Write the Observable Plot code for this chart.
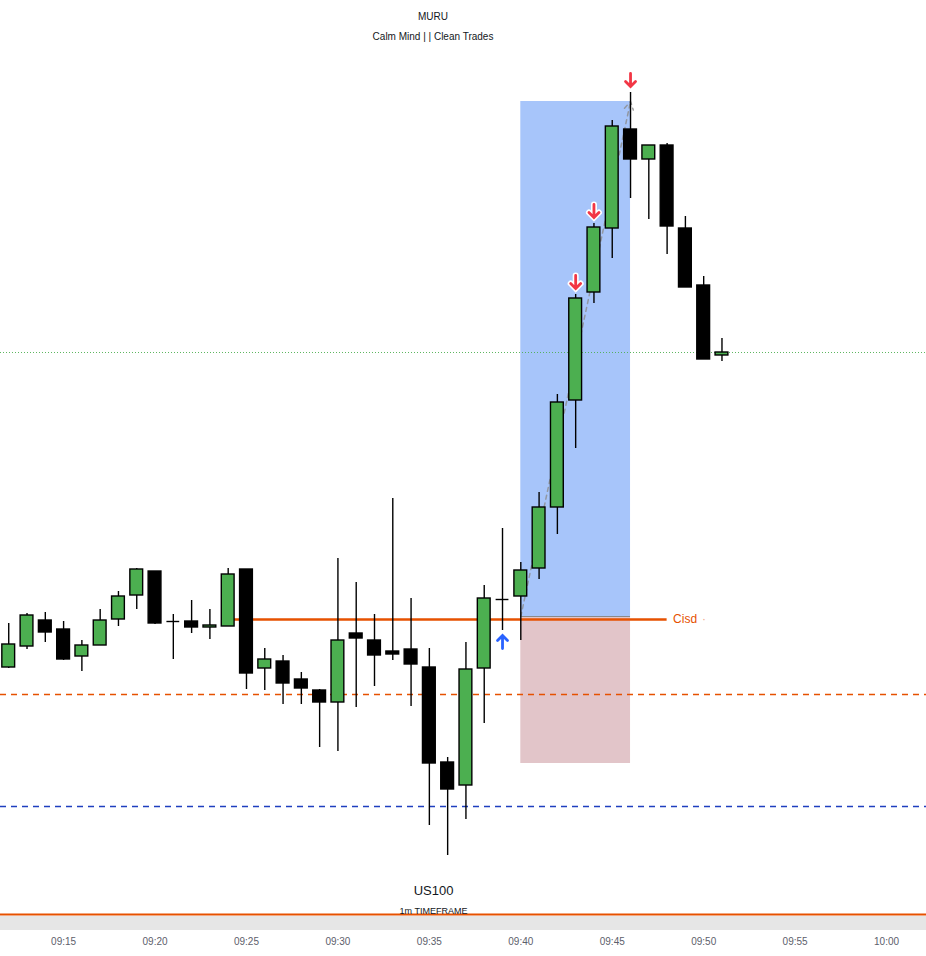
<!DOCTYPE html>
<html>
<head>
<meta charset="utf-8">
<script src="https://cdn.jsdelivr.net/npm/d3@7"></script>
<script src="https://cdn.jsdelivr.net/npm/@observablehq/plot@0.6"></script>
<style>
  body { margin: 0; background: #fff; font-family: "Liberation Sans", Arial, sans-serif; }
  #wrap { position: relative; width: 926px; height: 956px; overflow: hidden; background: #fff; }
  #hdr { position: absolute; left: 0; top: 0; width: 866px; height: 50px; text-align: center; color: #131722; font-size: 10px; line-height: 12px; }
  #t1 { position: absolute; top: 11px; width: 100%; }
  #t2 { position: absolute; top: 31px; width: 100%; }
  #chart { position: absolute; top: 50px; left: 0; }
  #band { position: absolute; left: 0; top: 916px; width: 926px; height: 14px; background: #e6e6e6; }
</style>
</head>
<body>
<div id="wrap">
  <div id="hdr"><div id="t1">MURU</div><div id="t2">Calm Mind | | Clean Trades</div></div>
  <div id="chart"></div>
  <div id="band"></div>
</div>
<script>
// ---- data (US100, 1m) ----
const times  = ["09:12","09:13","09:14","09:15","09:16","09:17","09:18","09:19","09:20","09:21",
                "09:22","09:23","09:24","09:25","09:26","09:27","09:28","09:29","09:30","09:31",
                "09:32","09:33","09:34","09:35","09:36","09:37","09:38","09:39","09:40","09:41",
                "09:42","09:43","09:44","09:45","09:46","09:47","09:48","09:49","09:50","09:51"];
const opens  = [21383.25,21388.5,21395,21392.75,21386,21388.75,21395.25,21401.25,21407.25,21394.75,
                21394.75,21393.25,21393.5,21407.75,21383,21384.75,21380.25,21377.5,21374.5,21391.75,
                21390,21387.25,21387.75,21383.25,21359.5,21353.75,21383,21400.25,21401,21408,
                21423.25,21450,21477,21493,21517.75,21510.25,21513.75,21493,21478.75,21461.25];
const highs  = [21394.25,21396.75,21397,21394.75,21390,21397.75,21402.25,21408,21407.25,21396.5,
                21400,21397.75,21408,21407.75,21388,21386.25,21382,21377.75,21410.5,21404.5,
                21396.5,21425.5,21400.5,21388,21360.75,21389.5,21403.75,21418,21409.5,21427,
                21451.5,21476.5,21494.25,21520,21527,21513.75,21514.25,21496,21481,21465.5];
const lows   = [21383,21387.75,21389.5,21385,21382.25,21388.75,21393.5,21397.75,21394,21385.25,
                21391.75,21390.25,21393.5,21377.75,21377.5,21374,21374,21363.25,21362.25,21373.25,
                21378.5,21385,21373.5,21343.75,21336.25,21345.25,21369.25,21392.5,21390,21405.25,
                21416.5,21438,21474.25,21485.5,21500.5,21495.25,21486.5,21478.25,21460.25,21459.75];
const closes = [21389,21396.25,21392,21385.25,21388.75,21395,21401,21407.75,21394.25,21394.75,
                21393.25,21393.75,21406.5,21381.75,21385.25,21379.25,21378,21374.5,21390,21390.5,
                21386.25,21386.5,21384,21359.25,21352.75,21382.75,21400.5,21400.25,21407.5,21423.25,
                21449.5,21475.5,21493.25,21518.5,21510.25,21513.75,21493.5,21478.25,21460.25,21462];

const tickLabels = ["09:15","09:20","09:25","09:30","09:35","09:40","09:45","09:50","09:55","10:00"];
const xDomain = ["09:11:33","10:02:11"];
const yDomain = [21321, 21537.5];

// position tool (long)
const position = [{start: "09:40", end: "09:46", entry: 21396, target: 21524.75, stop: 21359.25}];
// levels
const cisd = [{start: "09:24", end: "09:48", price: 21395.25, label: "Cisd"}];
const orangeDashed = [21376.5];
const blueDashed = [21348.5];
const bottomLevel = [21321.5];
const lastPrice = [21462];
// signals
const sellSignals = ["09:43","09:44","09:46"];
const buySignals = ["09:39"];

// ---- build ----
const parse = s => {
  const [h, m, sec] = s.split(":").map(Number);
  return new Date(Date.UTC(2024, 0, 2, h, m, sec || 0));
};
const candles = times.map((t, i) => ({t: parse(t), o: opens[i], h: highs[i], l: lows[i], c: closes[i]}));
const byTime = new Map(candles.map((d, i) => [times[i], d]));
const halfW = 21000; // half body width in ms
const pos = position.map(p => ({...p, x1: parse(p.start), x2: parse(p.end)}));
const cis = cisd.map(c => ({...c, x1: parse(c.start), x2: parse(c.end)}));
const sells = sellSignals.map(t => byTime.get(t));
const buys = buySignals.map(t => byTime.get(t));
const GREEN = "#4caf50", ORANGE = "#e65100";

// custom arrow glyph: shaft + chevron head
const arrowShape = {
  draw(context, l) {
    const w = 5;
    context.moveTo(0, 0);
    context.lineTo(0, -l + 1);
    context.moveTo(-w, -l + w);
    context.lineTo(0, -l);
    context.lineTo(w, -l + w);
  }
};
const signalMarks = (data, yField, rotate, dy, color) => [
  Plot.vector(data, {x: "t", y: yField, length: 13, rotate, anchor: "end", dy, shape: arrowShape, stroke: "white", strokeWidth: 6, strokeLinejoin: "miter"}),
  Plot.vector(data, {x: "t", y: yField, length: 13, rotate, anchor: "end", dy, shape: arrowShape, stroke: color, strokeWidth: 2.8, strokeLinejoin: "miter"})
];

const chart = Plot.plot({
  width: 926,
  height: 906,
  marginTop: 0, marginBottom: 40, marginLeft: 0, marginRight: 0,
  style: {background: "transparent", fontFamily: "'Liberation Sans', Arial, sans-serif", fontSize: "10px", overflow: "visible"},
  x: {type: "utc", domain: xDomain.map(parse)},
  y: {domain: yDomain, axis: null},
  marks: [
    Plot.axisX({ticks: tickLabels.map(parse), tickFormat: d3.utcFormat("%H:%M"), tickSize: 0, tickPadding: 21, fill: "#5d606b", label: null, fontSize: 10}),
    // position tool
    Plot.rect(pos, {x1: "x1", x2: "x2", y1: "entry", y2: "target", fill: "#a7c5fa"}),
    Plot.rect(pos, {x1: "x1", x2: "x2", y1: "stop", y2: "entry", fill: "#e2c5c9"}),
    Plot.ruleY(pos, {x1: "x1", x2: "x2", y: "entry", stroke: "#8a8a8a", strokeWidth: 1}),
    // current price dotted line
    Plot.ruleY(lastPrice, {stroke: GREEN, strokeDasharray: "1,2", strokeWidth: 1, strokeOpacity: 0.9}),
    // levels
    Plot.ruleY(orangeDashed, {stroke: ORANGE, strokeDasharray: "6,5", strokeWidth: 1.3}),
    Plot.ruleY(blueDashed, {stroke: "#1f3fbf", strokeDasharray: "6,5", strokeWidth: 1.3}),
    Plot.ruleY(cis, {x1: "x1", x2: "x2", y: "price", stroke: ORANGE, strokeWidth: 2.5}),
    Plot.text(cis, {x: "x2", y: "price", text: "label", fill: ORANGE, textAnchor: "start", dx: 6, fontSize: 12, fontWeight: 500}),
    Plot.text(cis, {x: "x2", y: "price", text: () => "·", fill: ORANGE, fillOpacity: 0.5, textAnchor: "start", dx: 35, fontSize: 12}),
    Plot.ruleY(bottomLevel, {stroke: ORANGE, strokeWidth: 2}),
    // dashed projection arrow
    Plot.arrow(pos, {x1: "x1", y1: "entry", x2: "x2", y2: "target", stroke: "#8c8c8c", strokeOpacity: 0.8, strokeDasharray: "4,4", strokeWidth: 1.5, headLength: 9, insetEnd: 0}),
    // wicks
    Plot.ruleX(candles, {x: "t", y1: "l", y2: "h", stroke: "#000", strokeWidth: 1.4}),
    // doji ticks
    Plot.ruleY(candles.filter(d => d.o === d.c), {x1: d => new Date(+d.t - halfW), x2: d => new Date(+d.t + halfW), y: "c", stroke: "#000", strokeWidth: 1.4}),
    // bodies
    Plot.rect(candles.filter(d => d.o !== d.c), {
      x1: d => new Date(+d.t - halfW), x2: d => new Date(+d.t + halfW),
      y1: d => Math.min(d.o, d.c), y2: d => Math.max(d.o, d.c),
      fill: d => d.c > d.o ? GREEN : "#000", stroke: "#000", strokeWidth: 1.4
    }),
    // signals
    ...signalMarks(sells, "h", 180, -6, "#f23645"),
    ...signalMarks(buys, "l", 0, 5, "#2962ff"),
    // watermark
    Plot.text(["US100"], {frameAnchor: "bottom", dx: -30, dy: -22, fill: "#131722", fontSize: 13}),
    Plot.text(["1m TIMEFRAME"], {frameAnchor: "bottom", dx: -30, dy: -3, fill: "#131722", fontSize: 9})
  ]
});
document.getElementById("chart").appendChild(chart);
</script>
</body>
</html>
